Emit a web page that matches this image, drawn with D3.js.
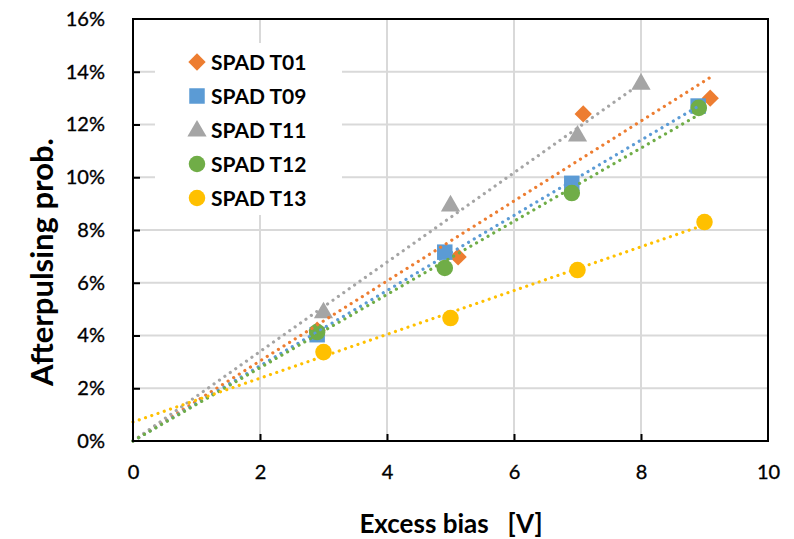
<!DOCTYPE html>
<html><head><meta charset="utf-8">
<script src="https://cdn.jsdelivr.net/npm/d3@7"></script>
<style>body{margin:0;background:#fff}svg{display:block}text{font-family:Lato,"Open Sans",sans-serif}</style>
</head><body><svg id="c" width="794" height="539"></svg>
<script>
const seriesNames = ["SPAD T01","SPAD T09","SPAD T11","SPAD T12","SPAD T13"];
const seriesColors = ["#ED7D31","#5B9BD5","#A5A5A5","#70AD47","#FFC000"];
const seriesShapes = ["diamond","square","triangle","circle","circle"];
const t01X = [2.9, 5.12, 7.09, 9.09], t01Y = [4.2, 6.98, 12.4, 13.0];
const t09X = [2.9, 4.91, 6.91, 8.9],  t09Y = [4.03, 7.16, 9.77, 12.7];
const t11X = [3.0, 5.0, 7.0, 8.0],    t11Y = [4.9, 8.95, 11.6, 13.57];
const t12X = [2.9, 4.91, 6.91, 8.91], t12Y = [4.13, 6.56, 9.4, 12.63];
const t13X = [3.0, 5.0, 7.0, 9.0],    t13Y = [3.37, 4.66, 6.48, 8.3];
const trendThroughOrigin = [true, true, true, true, false];
const xTicks = [0,2,4,6,8,10];
const yTicks = [0,2,4,6,8,10,12,14,16];
const xTitle = "Excess bias   [V]";
const yTitle = "Afterpulsing prob.";

const allX = [t01X,t09X,t11X,t12X,t13X], allY = [t01Y,t09Y,t11Y,t12Y,t13Y];
const series = seriesNames.map((n,i)=>({name:n,color:seriesColors[i],shape:seriesShapes[i],
  pts: allX[i].map((x,j)=>({x, y: allY[i][j]})), origin: trendThroughOrigin[i]}));

const svg = d3.select("#c");
const L=133,R=768,T=19,B=441;
const x = d3.scaleLinear().domain([0,10]).range([L,R]);
const y = d3.scaleLinear().domain([0,16]).range([B,T]);

// gridlines
svg.append("g").selectAll("line").data(xTicks.slice(1,-1)).join("line")
  .attr("x1",d=>x(d)).attr("x2",d=>x(d)).attr("y1",T).attr("y2",B)
  .attr("stroke","#d9d9d9").attr("stroke-width",2);
svg.append("g").selectAll("line").data(yTicks.slice(1,-1)).join("line")
  .attr("y1",d=>y(d)).attr("y2",d=>y(d)).attr("x1",L).attr("x2",R)
  .attr("stroke","#d9d9d9").attr("stroke-width",2);

// legend background
svg.append("rect").attr("x",155).attr("y",43).attr("width",187).attr("height",172).attr("fill","#fff");

const excelDiamond = {draw(ctx,size){const r=Math.sqrt(size/2);ctx.moveTo(0,-r);ctx.lineTo(r,0);ctx.lineTo(0,r);ctx.lineTo(-r,0);ctx.closePath();}};
function sym(shape){
  const m={diamond:[excelDiamond,150],square:[d3.symbolSquare,240],triangle:[d3.symbolTriangle,160],circle:[d3.symbolCircle,215]};
  return d3.symbol().type(m[shape][0]).size(m[shape][1])();
}

// markers
series.forEach(s=>{
  svg.append("g").selectAll("path").data(s.pts).join("path")
    .attr("d",sym(s.shape))
    .attr("transform",d=>`translate(${x(d.x)},${y(d.y)})`+(s.shape==="triangle"?" translate(0,1)":""))
    .attr("fill",s.color);
});

// trendlines
series.forEach(s=>{
  let a,b;
  if(s.origin){
    a=0; b=d3.sum(s.pts,p=>p.x*p.y)/d3.sum(s.pts,p=>p.x*p.x);
  } else {
    const mx=d3.mean(s.pts,p=>p.x), my=d3.mean(s.pts,p=>p.y);
    b=d3.sum(s.pts,p=>(p.x-mx)*(p.y-my))/d3.sum(s.pts,p=>(p.x-mx)**2);
    a=my-b*mx;
  }
  const xe=d3.max(s.pts,p=>p.x);
  svg.append("line").attr("x1",x(0)).attr("y1",y(a)).attr("x2",x(xe)).attr("y2",y(a+b*xe))
    .attr("stroke",s.color).attr("stroke-width",3.2).attr("stroke-linecap","round")
    .attr("stroke-dasharray","0.01 6.6");
});

// frame
svg.append("rect").attr("x",L).attr("y",T).attr("width",R-L).attr("height",B-T)
  .attr("fill","none").attr("stroke","#000").attr("stroke-width",2);

// axes (inward ticks)
const yAxis = d3.axisLeft(y).tickValues(yTicks).tickSize(-7).tickPadding(28).tickFormat(d=>d+"%");
const gy = svg.append("g").attr("transform",`translate(${L},0)`).call(yAxis);
const xAxis = d3.axisBottom(x).tickValues(xTicks).tickSize(-7).tickPadding(24).tickFormat(d=>d);
const gx = svg.append("g").attr("transform",`translate(0,${B})`).call(xAxis);
[gy,gx].forEach(g=>{
  g.select(".domain").remove();
  g.selectAll(".tick line").attr("stroke","#000").attr("stroke-width",2);
  g.selectAll(".tick text").attr("font-size",20).attr("fill","#000").attr("font-family","Lato")
    .attr("stroke","#000").attr("stroke-width",0.35);
});
gy.selectAll(".tick line").filter(d=>d===0||d===16).remove();
gx.selectAll(".tick line").filter(d=>d===0||d===10).remove();

// titles
svg.append("text").attr("x",451).attr("y",533).attr("text-anchor","middle")
  .attr("font-size",26).attr("font-weight","bold").style("white-space","pre").text(xTitle);
svg.append("text").attr("transform","translate(53,262) rotate(-90)").attr("text-anchor","middle")
  .attr("font-size",31).attr("font-weight","bold").text(yTitle);

// legend
const lg = svg.append("g");
series.forEach((s,i)=>{
  const yy = 62 + i*34;
  lg.append("path").attr("d",sym(s.shape)).attr("fill",s.color)
    .attr("transform",`translate(197,${yy+(s.shape==="triangle"?1:0)})`);
  lg.append("text").attr("x",211).attr("y",yy).attr("dy","0.36em")
    .attr("font-size",21).attr("font-weight","bold").text(s.name);
});
</script></body></html>
